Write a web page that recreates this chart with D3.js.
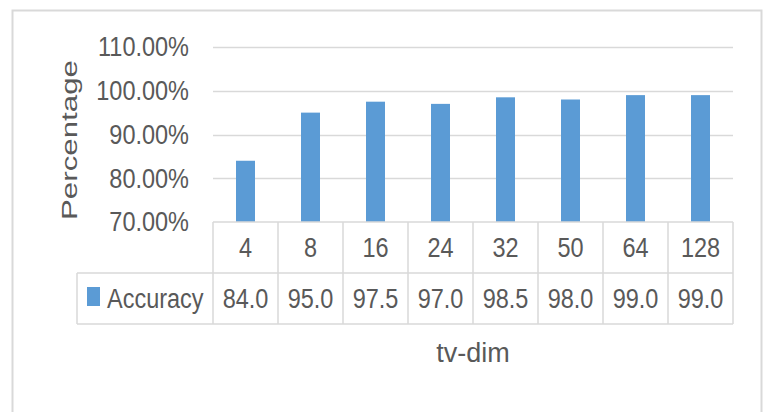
<!DOCTYPE html>
<html>
<head>
<meta charset="utf-8">
<script src="https://cdn.jsdelivr.net/npm/d3@7"></script>
<style>
  body { margin: 0; background: #fff; }
  svg { display: block; }
  text { font-family: "Liberation Sans", Arial, sans-serif; fill: #595959; }
</style>
</head>
<body>
<svg id="chart" width="766" height="412"></svg>
<script>
var categories = ["4", "8", "16", "24", "32", "50", "64", "128"];
var accuracy = [84.0, 95.0, 97.5, 97.0, 98.5, 98.0, 99.0, 99.0];
var yTicks = [70, 80, 90, 100, 110];
var seriesName = "Accuracy";

var svg = d3.select("#chart");
var margin = {left: 213, right: 33, top: 47, plotBottom: 222};
var rowH = 51;
var squeeze = 0.87; // the text in the picture is narrow

function place(sel, fx, fy) {
  sel.attr("transform", (d, i) => "translate(" + fx(d, i) + "," + fy(d, i) + ") scale(" + squeeze + ",1)");
}

// outer chart frame
svg.append("path")
  .attr("d", "M12.5,412 V10.5 H761.5 V412")
  .attr("fill", "none")
  .attr("stroke", "#d9d9d9")
  .attr("stroke-width", 2);

var x = d3.scaleBand()
  .domain(categories)
  .range([margin.left, 766 - margin.right])
  .paddingInner(0).paddingOuter(0);

var y = d3.scaleLinear()
  .domain([70, 110])
  .range([margin.plotBottom, margin.top]);

// gridlines
svg.append("g")
  .selectAll("line")
  .data(yTicks.slice(1))
  .join("line")
    .attr("x1", x.range()[0]).attr("x2", x.range()[1])
    .attr("y1", d => Math.round(y(d)) + 0.5).attr("y2", d => Math.round(y(d)) + 0.5)
    .attr("stroke", "#d9d9d9").attr("stroke-width", 1.5);

// y tick labels
svg.append("g")
  .selectAll("text")
  .data(yTicks)
  .join("text")
    .call(place, () => 189, d => y(d))
    .attr("dy", "0.35em")
    .attr("text-anchor", "end")
    .attr("font-size", 27)
    .text(d => d.toFixed(2) + "%");

// bars
var barW = 19;
svg.append("g")
  .selectAll("rect")
  .data(accuracy)
  .join("rect")
    .attr("x", (d, i) => x(categories[i]) + x.bandwidth() / 2 - barW / 2)
    .attr("width", barW)
    .attr("y", d => y(d))
    .attr("height", d => y(70) - y(d))
    .attr("fill", "#5b9bd5");

// data table
var t0 = margin.plotBottom, t1 = t0 + rowH, t2 = t1 + rowH;
var legendLeft = 77;
var grid = svg.append("g").attr("stroke", "#d9d9d9").attr("stroke-width", 1.5).attr("fill", "none");
grid.append("line").attr("x1", x.range()[0]).attr("x2", x.range()[1]).attr("y1", t0).attr("y2", t0);
grid.append("line").attr("x1", legendLeft).attr("x2", x.range()[1]).attr("y1", t1).attr("y2", t1);
grid.append("line").attr("x1", legendLeft).attr("x2", x.range()[1]).attr("y1", t2).attr("y2", t2);
grid.append("line").attr("x1", legendLeft).attr("x2", legendLeft).attr("y1", t1).attr("y2", t2);
grid.selectAll("line.col")
  .data(categories.map(c => x(c)).concat([x.range()[1]]))
  .join("line")
    .attr("class", "col")
    .attr("x1", d => d).attr("x2", d => d)
    .attr("y1", t0).attr("y2", t2);

svg.append("g")
  .selectAll("text")
  .data(categories)
  .join("text")
    .call(place, d => x(d) + x.bandwidth() / 2, () => (t0 + t1) / 2)
    .attr("dy", "0.35em")
    .attr("text-anchor", "middle")
    .attr("font-size", 27)
    .text(d => d);

svg.append("g")
  .selectAll("text")
  .data(accuracy)
  .join("text")
    .call(place, (d, i) => x(categories[i]) + x.bandwidth() / 2, () => (t1 + t2) / 2)
    .attr("dy", "0.35em")
    .attr("text-anchor", "middle")
    .attr("font-size", 27)
    .text(d => d.toFixed(1));

// legend key in table
svg.append("rect")
  .attr("x", 87).attr("y", 287).attr("width", 13).attr("height", 19)
  .attr("fill", "#5b9bd5");
svg.append("text")
  .call(place, () => 107, () => (t1 + t2) / 2)
  .attr("dy", "0.35em")
  .attr("font-size", 27)
  .text(seriesName);

// axis titles
svg.append("text")
  .attr("transform", "translate(77,140) rotate(-90)")
  .attr("text-anchor", "middle")
  .attr("font-family", "DejaVu Sans")
  .attr("font-size", 22)
  .attr("textLength", 160)
  .attr("lengthAdjust", "spacingAndGlyphs")
  .text("Percentage");

svg.append("text")
  .attr("x", (x.range()[0] + x.range()[1]) / 2)
  .attr("y", 353)
  .attr("dy", "0.35em")
  .attr("text-anchor", "middle")
  .attr("font-size", 27)
  .text("tv-dim");
</script>
</body>
</html>
